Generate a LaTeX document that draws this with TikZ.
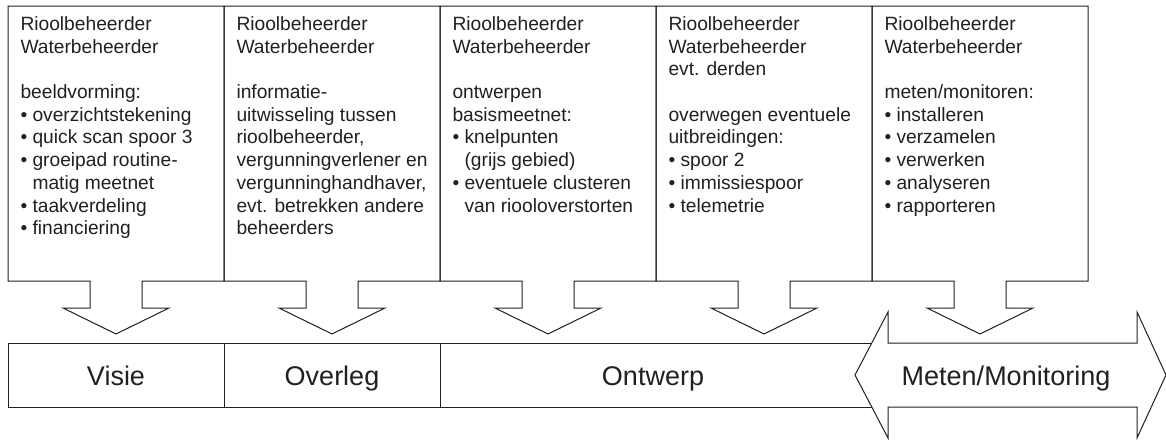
\documentclass[tikz,border=0pt]{standalone}
\usepackage{fontspec}
\setmainfont{Liberation Sans}
\usepackage{tikz}
\usetikzlibrary{positioning, calc}
\definecolor{ink}{HTML}{231F20}
\newcommand{\bul}{\textbullet\ }
\newcommand{\ind}{\hphantom{\textbullet\ }}
\newcommand{\gap}{\\[11.35pt]}

\begin{document}
\begin{tikzpicture}[x=0.5pt, y=-0.5pt, line width=0.5pt,
		frame/.style={draw=ink, line join=miter},
		info/.style={anchor=north west, inner sep=0pt, align=left, text=ink,
			font=\fontsize{9.6}{11.35}\selectfont},
		phase/.style={anchor=base, inner sep=0pt, text=ink, font=\fontsize{13.5}{16}\selectfont}]
			\useasboundingbox (0,0) rectangle (1166,439);
			% kolommen met pijl naar beneden
			\foreach \i in {0,...,4}{
				\pgfmathsetmacro{\xl}{8+216*\i}
				\pgfmathsetmacro{\xc}{\xl+108}
				\pgfmathsetmacro{\xr}{\xl+216}
				\draw[frame] (\xl,6) -- (\xl,281) -- (\xc-26,281) -- (\xc-26,308) -- (\xc-53,308)
					-- (\xc,334) -- (\xc+53,308) -- (\xc+26,308) -- (\xc+26,281) -- (\xr,281) -- (\xr,6) -- cycle;
			}
			\node[info] (t1) at (20,16) {Rioolbeheerder\\Waterbeheerder\gap
				beeldvorming:\\ \bul overzichtstekening\\ \bul quick scan spoor 3\\
				\bul groeipad routine-\\ \ind matig meetnet\\ \bul taakverdeling\\ \bul financiering};
			\node[info] (t2) at (236,16) {Rioolbeheerder\\Waterbeheerder\gap
				informatie-\\uitwisseling tussen\\rioolbeheerder,\\vergunningverlener en\\
				vergunninghandhaver,\\evt. betrekken andere\\beheerders};
			\node[info] (t3) at (452,16) {Rioolbeheerder\\Waterbeheerder\gap
				ontwerpen\\basismeetnet:\\ \bul knelpunten\\ \ind(grijs gebied)\\
				\bul eventuele clusteren\\ \ind van riooloverstorten};
			\node[info] (t4) at (668,16) {Rioolbeheerder\\Waterbeheerder\\evt. derden\gap
				overwegen eventuele\\uitbreidingen:\\ \bul spoor 2\\ \bul immissiespoor\\ \bul telemetrie};
			\node[info] (t5) at (884,16) {Rioolbeheerder\\Waterbeheerder\gap
				meten/monitoren:\\ \bul installeren\\ \bul verzamelen\\ \bul verwerken\\
				\bul analyseren\\ \bul rapporteren};
			% fasebalk
			\draw[frame] (880,343) -- (8,343) -- (8,407) -- (880,407);
			\foreach \x in {224,440}
				\draw[frame] (\x,343) -- (\x,407);
			\draw[frame, fill=white] (855,375) -- (888,312) -- (888,343) -- (1137,343) -- (1137,312)
				-- (1166,375) -- (1137,438) -- (1137,407) -- (888,407) -- (888,438) -- cycle;
			\node[phase] (visie) at (116,385) {Visie};
			\node[phase] (overleg) at (332,385) {Overleg};
			\node[phase] (ontwerp) at (653,385) {Ontwerp};
			\node[phase] (meten) at (1006,385) {Meten/Monitoring};
		\end{tikzpicture}
\end{document}
